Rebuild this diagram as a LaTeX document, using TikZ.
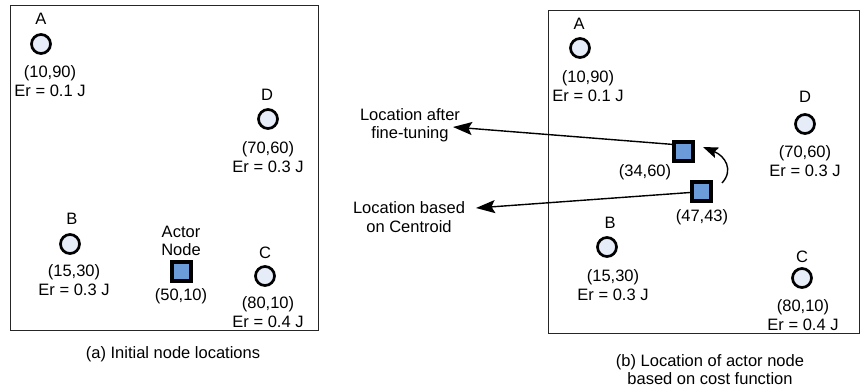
\documentclass[tikz,border=0pt]{standalone}
\usepackage{fontspec}
\setmainfont{Liberation Sans}
\usetikzlibrary{arrows.meta}
\definecolor{sensorfill}{HTML}{E6ECF8}
\definecolor{actorfill}{HTML}{6C9BDA}
\tikzset{
  sensor/.style={circle, draw=black, line width=2.7pt, fill=sensorfill,
    minimum size=19pt, inner sep=0pt},
  actor/.style={rectangle, draw=black, line width=4pt, fill=actorfill,
    minimum size=19pt, inner sep=0pt},
  lbl/.style={inner sep=0pt, font=\fontsize{16.5}{18.5}\selectfont, align=center},
  field/.style={draw=black!85, line width=1pt},
  pointer/.style={line width=1.4pt, -{Stealth[length=19pt, width=13pt, inset=3.5pt]}},
  move/.style={line width=1.4pt, -{Stealth[length=15pt, width=11pt, inset=2.5pt]}}
}
\begin{document}
\begin{tikzpicture}[x=1pt, y=-1pt]
\useasboundingbox (0,0) rectangle (863,389);

% ---- (a) initial node locations ----
\draw[field] (10,5) rectangle (318,330);

\node[lbl] (aA) at (41,19) {A};
\node[sensor] (a1) at (41,44) {};
\node[lbl] (aAt) at (50,81) {(10,90)\\Er = 0.1 J};

\node[lbl] (aD) at (267,95) {D};
\node[sensor] (a4) at (268,119) {};
\node[lbl] (aDt) at (268,157) {(70,60)\\Er = 0.3 J};

\node[lbl] (aB) at (72,219) {B};
\node[sensor] (a2) at (70,244) {};
\node[lbl] (aBt) at (74,280) {(15,30)\\Er = 0.3 J};

\node[lbl] (aAc) at (181,241) {Actor\\Node};
\node[actor] (aAct) at (181,271) {};
\node[lbl] (aAcp) at (181,296) {(50,10)};

\node[lbl] (aC) at (265,253) {C};
\node[sensor] (a3) at (265,276) {};
\node[lbl] (aCt) at (268,312) {(80,10)\\Er = 0.4 J};

\node[lbl] (capa) at (173,354) {(a) Initial node locations};

% ---- (b) actor placement by cost function ----
\draw[field] (548,10) rectangle (859,333);

\node[lbl] (bA) at (579,24) {A};
\node[sensor] (b1) at (580,48) {};
\node[lbl] (bAt) at (588,86) {(10,90)\\Er = 0.1 J};

\node[lbl] (bD) at (805,97) {D};
\node[sensor] (b4) at (805,124) {};
\node[lbl] (bDt) at (805,161) {(70,60)\\Er = 0.3 J};

\node[lbl] (bB) at (610,223) {B};
\node[sensor] (b2) at (607,247) {};
\node[lbl] (bBt) at (613,285) {(15,30)\\Er = 0.3 J};

\node[lbl] (bC) at (802,257) {C};
\node[sensor] (b3) at (802,278) {};
\node[lbl] (bCt) at (803,315) {(80,10)\\Er = 0.4 J};

\node[actor] (sq1) at (683.5,151) {};
\node[lbl] (sq1t) at (645,172) {(34,60)};
\node[actor] (sq2) at (701.5,191.5) {};
\node[lbl] (sq2t) at (702,217) {(47,43)};

\node[lbl] (tune) at (410,125) {Location after\\fine-tuning};
\node[lbl] (cent) at (409,217) {Location based\\on Centroid};

\coordinate (tuneTip) at (453,127);
\coordinate (centTip) at (476,208);
\draw[pointer] (sq1.150) -- (tuneTip);
\draw[pointer] (sq2.185) -- (centTip);

\coordinate (mvStart) at (722,183);
\coordinate (mvEnd) at (703,147);
\draw[move] (mvStart) .. controls (734,170) and (725,156) .. (mvEnd);

\node[lbl] (capb) at (710,369.5) {(b) Location of actor node\\based on cost function};
\end{tikzpicture}
\end{document}
